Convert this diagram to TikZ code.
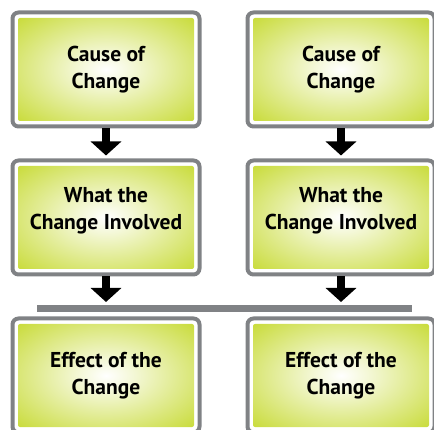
\documentclass[tikz,border=0pt]{standalone}
\usepackage{fontspec}
\setmainfont{PT Sans}
\usetikzlibrary{arrows.meta,positioning,fit}
\definecolor{boxgreen}{HTML}{C5D92D}
\definecolor{framegray}{HTML}{808285}
\pgfdeclareradialshading{boxglow}{\pgfpoint{0bp}{0bp}}{color(0bp)=(white); color(8bp)=(white!80!boxgreen); color(38bp)=(boxgreen); color(50bp)=(boxgreen)}

\begin{document}
\begin{tikzpicture}[x=1pt,y=-1pt,>={Triangle[width=30pt,length=14pt]},
        main box/.style={shade,shading=boxglow,rounded corners=2pt,minimum width=176pt,
          minimum height=103pt,inner sep=0pt,outer sep=0pt,align=center,
          font=\bfseries\fontsize{21.5}{27}\selectfont},
        raised/.style={text depth=18.5pt},
        frame/.style={draw=framegray,line width=4pt,rounded corners=6pt,inner sep=5.5pt},
        link/.style={->,line width=8pt,shorten >=3pt}]
        \useasboundingbox (0,0) rectangle (434,430);
        \clip (0,0) rectangle (434,430);
        \node[main box] (cause1) at (106,69.5) {Cause of\\Change};
        \node[main box] (cause2) [right=59pt of cause1] {Cause of\\Change};
        \node[main box,raised] (what1) [below=45pt of cause1] {What the\\Change Involved};
        \node[main box,raised] (what2) [right=59pt of what1] {What the\\Change Involved};
        \node[main box] (effect1) [below=55pt of what1] {Effect of the\\Change};
        \node[main box] (effect2) [right=59pt of effect1] {Effect of the\\Change};
        \foreach \n in {cause1,cause2,what1,what2,effect1,effect2}
          \node[frame,fit=(\n)] (\n f) {};
        \coordinate (barL) at (37,308.5);
        \coordinate (barR) at (412,308.5);
        \draw[framegray,line width=7pt] (barL) -- (barR);
        \draw[link] (cause1f.south) -- (what1f.north);
        \draw[link] (cause2f.south) -- (what2f.north);
        \draw[link,shorten >=6.5pt] (what1f.south) -- (what1f.south |- barL);
        \draw[link,shorten >=6.5pt] (what2f.south) -- (what2f.south |- barL);
\end{tikzpicture}
\end{document}
